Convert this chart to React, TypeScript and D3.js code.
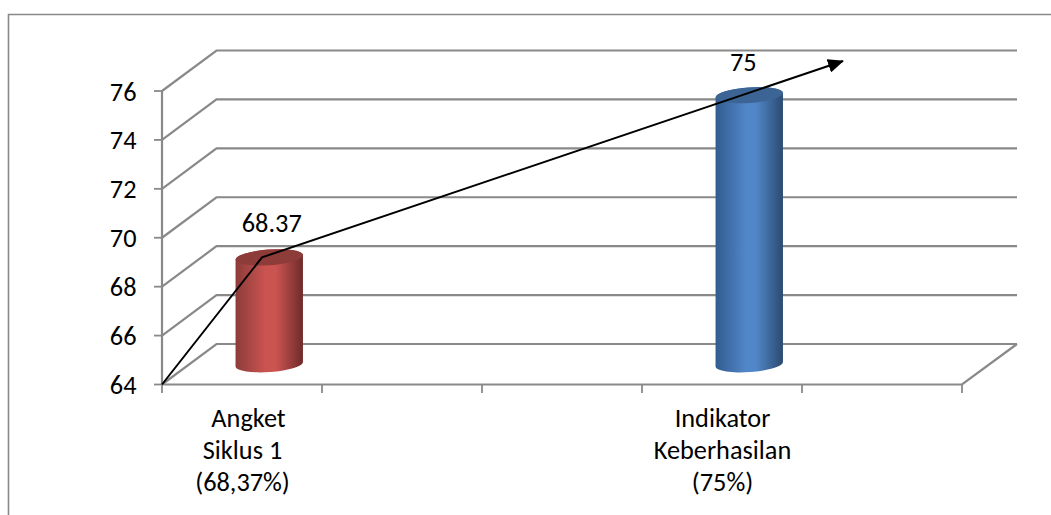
import React from "react";
import * as d3 from "d3";

const slots = ["a", "b", "c", "d", "e"];
const barSlots = ["a", "d"];
const barValues = [68.37, 75];
const barLabels = ["68.37", "75"];
const axisTicks = [64, 66, 68, 70, 72, 74, 76];
const catLabels = [
  ["Angket", "Siklus 1", "(68,37%)"],
  ["Indikator", "Keberhasilan", "(75%)"],
];
const barColors = [
  { id: "red", edgeL: "#8c3c3a", mid: "#cb5451", edgeR: "#6e2b2a", top: "#8d3c3a" },
  { id: "blue", edgeL: "#315c8f", mid: "#5186c8", edgeR: "#2b4a70", top: "#3c6595" },
];

const GREY = "#898989";
const FONT = "Carlito, Lato, 'Open Sans', sans-serif";
const W = 1051, H = 515;
const DX = 54.5, DY = 40.5;
const FS = 26.3;

export default function App() {
  const y = d3.scaleLinear().domain([64, 76]).range([384.5, 91]);
  const x = d3.scaleBand().domain(slots).range([162, 962]);
  const rx = 33.7, ry = 7.8, tilt = 2.5;

  const tickXs = [...slots.map((s) => x(s)!), 962];
  const arrow = [
    [162, y(64)],
    [262, y(68.37) - DY / 2],
    [843, 61],
  ];
  const angle = -4;

  return (
    <svg width={W} height={H} style={{ position: "absolute", left: 0, top: 0, background: "#fff" }} fontFamily={FONT}>
      <defs>
        {barColors.map((c) => (
          <linearGradient key={c.id} id={c.id} x1="0" x2="1" y1="0" y2="0">
            <stop offset="0" stopColor={c.edgeL} />
            <stop offset="0.45" stopColor={c.mid} />
            <stop offset="0.6" stopColor={c.mid} />
            <stop offset="1" stopColor={c.edgeR} />
          </linearGradient>
        ))}
        <marker id="head" viewBox="0 0 16 14" refX="15" refY="7" markerWidth="16" markerHeight="14" markerUnits="userSpaceOnUse" orient="auto">
          <path d="M0,0 L16,7 L0,14 Z" fill="#000" />
        </marker>
      </defs>

      <path d={`M8.5,${H} V14.5 H${W}`} fill="none" stroke={GREY} strokeWidth={1.6} />

      {axisTicks.map((t) => (
        <g key={t} stroke={GREY} strokeWidth={2.2} fill="none">
          <path d={`M162,${y(t)} L${162 + DX},${y(t) - DY} H1017`} />
          <path d={`M154,${y(t)} H162`} strokeWidth={1.8} />
        </g>
      ))}
      <path d={`M162,${y(64)} H962 L1017,${y(64) - DY}`} fill="none" stroke={GREY} strokeWidth={2.2} />
      <path d={`M162,${y(76)} V${y(64)}`} fill="none" stroke={GREY} strokeWidth={2.2} />
      {tickXs.map((tx) => (
        <path key={tx} d={`M${tx},${y(64)} V393`} stroke={GREY} strokeWidth={1.8} fill="none" />
      ))}

      {axisTicks.map((t) => (
        <text key={t} x={136.5} y={y(t) + 9.5} fontSize={FS} textAnchor="end" fill="#000">
          {t}
        </text>
      ))}

      {barValues.map((v, i) => {
        const cx = x(barSlots[i])! + x.bandwidth() / 2 + DX / 2;
        const yt = y(v) - DY / 2;
        const yb = y(64) - DY / 2;
        const c = barColors[i];
        return (
          <g key={c.id}>
            <path
              d={`M${cx - rx},${yt + tilt} L${cx - rx},${yb + tilt} A${rx},${ry} ${angle} 0 0 ${cx + rx},${yb - tilt} L${cx + rx},${yt - tilt} A${rx},${ry} ${angle} 0 0 ${cx - rx},${yt + tilt} Z`}
              fill={`url(#${c.id})`}
            />
            <ellipse cx={cx} cy={yt} rx={rx} ry={ry} fill={c.top} transform={`rotate(${angle} ${cx} ${yt})`} />
            <text x={cx + (i === 0 ? 2.5 : -6)} y={yt - (i === 0 ? 25.5 : 24)} fontSize={FS} textAnchor="middle" fill="#000">
              {barLabels[i]}
            </text>
          </g>
        );
      })}

      {catLabels.map((lines, i) => {
        const cx = x(barSlots[i])! + x.bandwidth() / 2;
        return lines.map((l, j) => (
          <text
            key={l}
            x={cx + (i === 0 && j === 0 ? 6.5 : 0.5)}
            y={427 + j * 32}
            fontSize={FS}
            textAnchor="middle"
            fill="#000"
          >
            {l}
          </text>
        ));
      })}

      <path d={d3.line()(arrow as [number, number][])!} fill="none" stroke="#000" strokeWidth={2} markerEnd="url(#head)" />
    </svg>
  );
}
